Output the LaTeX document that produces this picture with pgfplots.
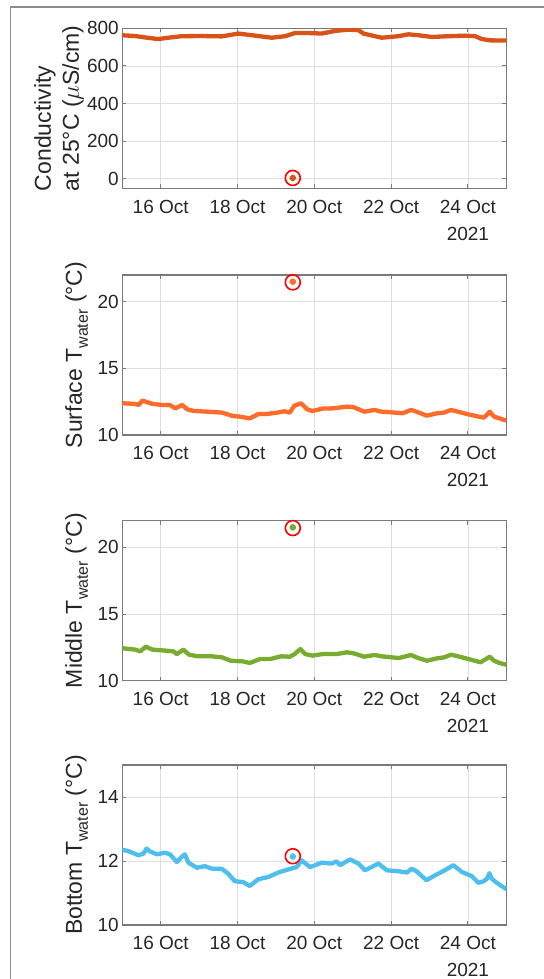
\documentclass[border=0pt]{standalone}
\usepackage{pgfplots}
\pgfplotsset{compat=1.18}
\usepackage{fontspec}
\setmainfont{Liberation Sans}
\definecolor{condc}{HTML}{D95319}
\definecolor{surfc}{HTML}{FF6B2B}
\definecolor{midc}{HTML}{77AC30}
\definecolor{botc}{HTML}{4DBEEE}
\definecolor{axgray}{HTML}{7A7A7A}
\definecolor{txt}{HTML}{262626}
\newcommand{\tickfont}{\fontsize{19bp}{22bp}\selectfont}
\newcommand{\labfont}{\fontsize{23bp}{28bp}\selectfont}
\newcommand{\sub}[1]{\raisebox{-6bp}{\fontsize{16bp}{16bp}\selectfont #1}}
\pgfplotsset{
 mystyle/.style={
  scale only axis, width=384bp, height=160bp,
  anchor=north west,
  xmin=15, xmax=25, xtick={16,18,20,22,24},
  xticklabels={16 Oct,18 Oct,20 Oct,22 Oct,{24 Oct\\[5bp]2021}},
  xticklabel style={align=center, font=\tickfont, text=txt, yshift=-8bp},
  yticklabel style={font=\tickfont, text=txt},
  /pgf/number format/assume math mode=true,
  grid=major, major grid style={black!13, line width=0.8bp},
  axis line style={axgray, line width=1.2bp},
  tick style={axgray, line width=1bp}, tick align=inside, major tick length=4bp,
  ylabel style={font=\labfont, text=txt, align=center},
  every axis plot/.append style={line width=4.3bp, line join=round, line cap=round},
 }
}
\begin{document}
\begin{tikzpicture}
\useasboundingbox (0,0) rectangle (544bp,-979bp);
\draw[color=black!45, line width=1.7bp] (10.5bp,-980bp) -- (10.5bp,-6.7bp) -- (545bp,-6.7bp);

% Conductivity
\begin{axis}[mystyle, at={(122.3bp,-28.3bp)}, ymin=-50, ymax=800, ytick={0,200,400,600,800},
  ylabel={Conductivity\\at 25°C ($\mu$S/cm)},
  ylabel style={at={(axis description cs:-0.165,0.5)}, anchor=center, align=left}]
\addplot[condc] coordinates {
(15.0,763) (15.33,759) (15.68,749) (15.94,743) (16.2,750) (16.55,758) (17.07,759)
(17.59,757) (18.02,772) (18.46,761) (18.89,750) (19.24,758) (19.5,775) (19.84,775)
(20.19,772) (20.54,786) (20.89,793) (21.15,790) (21.28,772) (21.58,758) (21.76,750)
(22.19,758) (22.45,768) (22.71,763) (23.06,754) (23.49,758) (23.92,761) (24.19,758)
(24.36,743) (24.58,736) (25.0,735)};
\addplot[only marks, mark=*, mark size=1.2bp, condc] coordinates {(19.44,5)};
\addplot[only marks, mark=o, mark size=7.5bp, red, line width=1.6bp] coordinates {(19.44,5)};
\end{axis}

% Surface
\begin{axis}[mystyle, at={(122.3bp,-275bp)}, ymin=10, ymax=22, ytick={10,15,20},
  ylabel={Surface T\sub{water} (°C)},
  ylabel style={at={(axis description cs:-0.105,0.5)}, anchor=base}]
\addplot[surfc] coordinates {
(15.02,12.38) (15.34,12.33) (15.43,12.25) (15.52,12.58) (15.61,12.5) (15.79,12.33)
(16.06,12.25) (16.24,12.25) (16.38,12.0) (16.56,12.25) (16.69,11.93) (16.87,11.8)
(17.23,11.75) (17.6,11.68) (17.87,11.43) (18.05,11.38) (18.32,11.25) (18.55,11.58)
(18.77,11.58) (19.04,11.68) (19.22,11.78) (19.36,11.68) (19.48,12.2) (19.58,12.3)
(19.66,12.38) (19.81,11.93) (19.95,11.8) (20.22,11.98) (20.49,12.0) (20.85,12.13)
(21.03,12.08) (21.3,11.75) (21.57,11.88) (21.75,11.75) (22.02,11.7) (22.3,11.63)
(22.52,11.88) (22.66,11.75) (22.93,11.45) (23.2,11.63) (23.38,11.68) (23.56,11.88)
(23.74,11.75) (24.01,11.55) (24.28,11.38) (24.42,11.3) (24.57,11.75) (24.68,11.38)
(24.82,11.25) (25.0,11.08)};
\addplot[only marks, mark=*, mark size=1.2bp, surfc] coordinates {(19.44,21.5)};
\addplot[only marks, mark=o, mark size=7.5bp, red, line width=1.6bp] coordinates {(19.44,21.45)};
\end{axis}

% Middle
\begin{axis}[mystyle, at={(122.3bp,-520.7bp)}, ymin=10, ymax=22, ytick={10,15,20},
  ylabel={Middle T\sub{water} (°C)},
  ylabel style={at={(axis description cs:-0.105,0.5)}, anchor=base}]
\addplot[midc] coordinates {
(15.02,12.43) (15.34,12.33) (15.47,12.2) (15.61,12.55) (15.79,12.33) (16.15,12.25)
(16.33,12.2) (16.42,12.0) (16.59,12.33) (16.74,11.95) (16.97,11.83) (17.33,11.83)
(17.6,11.75) (17.82,11.5) (18.14,11.45) (18.32,11.33) (18.59,11.63) (18.86,11.63)
(19.13,11.83) (19.36,11.8) (19.49,12.0) (19.64,12.38) (19.76,12.0) (19.95,11.88)
(20.22,12.0) (20.58,12.0) (20.85,12.13) (21.03,12.05) (21.3,11.8) (21.57,11.93)
(21.75,11.83) (22.2,11.7) (22.52,11.93) (22.66,11.75) (22.93,11.5) (23.2,11.68)
(23.38,11.75) (23.56,11.95) (23.74,11.83) (24.01,11.63) (24.33,11.38) (24.57,11.8)
(24.68,11.5) (24.82,11.33) (25.0,11.2)};
\addplot[only marks, mark=*, mark size=1.2bp, midc] coordinates {(19.44,21.5)};
\addplot[only marks, mark=o, mark size=7.5bp, red, line width=1.6bp] coordinates {(19.44,21.45)};
\end{axis}

% Bottom
\begin{axis}[mystyle, at={(122.3bp,-765bp)}, ymin=10, ymax=15, ytick={10,12,14},
  ylabel={Bottom T\sub{water} (°C)},
  ylabel style={at={(axis description cs:-0.105,0.5)}, anchor=base}]
\addplot[botc] coordinates {
(15.0,12.35) (15.16,12.31) (15.42,12.18) (15.55,12.23) (15.63,12.39) (15.72,12.30)
(15.9,12.21) (16.11,12.26) (16.24,12.21) (16.42,11.97) (16.55,12.13) (16.63,12.21)
(16.72,11.95) (16.94,11.79) (17.15,11.84) (17.33,11.76) (17.59,11.76) (17.76,11.60)
(17.93,11.37) (18.15,11.34) (18.32,11.22) (18.54,11.43) (18.8,11.5) (19.06,11.64)
(19.33,11.74) (19.54,11.81) (19.67,12.02) (19.89,11.81) (20.2,11.95) (20.45,11.92)
(20.58,11.99) (20.67,11.87) (20.93,12.05) (21.15,11.92) (21.32,11.71) (21.54,11.84)
(21.67,11.92) (21.89,11.71) (22.19,11.68) (22.41,11.64) (22.54,11.76) (22.66,11.68)
(22.92,11.40) (23.14,11.55) (23.4,11.71) (23.62,11.87) (23.84,11.66) (24.1,11.53)
(24.27,11.32) (24.4,11.36) (24.5,11.45) (24.56,11.62) (24.62,11.45) (24.75,11.32)
(24.9,11.2) (25.0,11.12)};
\addplot[only marks, mark=*, mark size=1.2bp, botc] coordinates {(19.44,12.14)};
\addplot[only marks, mark=o, mark size=7.5bp, red, line width=1.6bp] coordinates {(19.44,12.15)};
\end{axis}
\end{tikzpicture}
\end{document}
